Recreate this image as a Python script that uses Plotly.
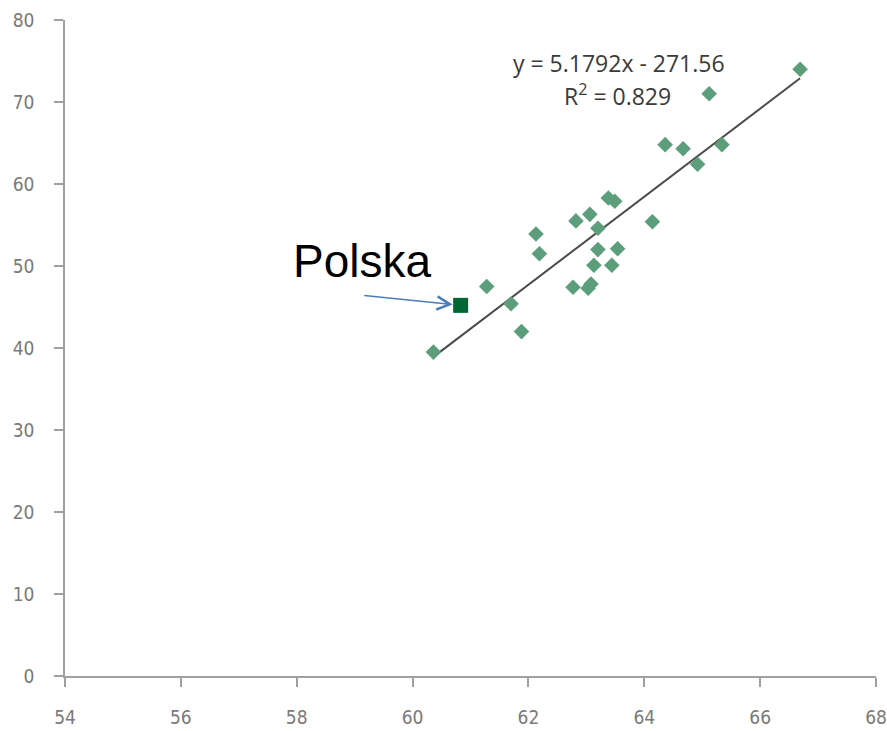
import numpy as np
import plotly.graph_objects as go

# Data
x_vals = [66.69, 65.12, 64.36, 64.67, 65.34, 64.92, 63.38, 63.49, 63.06, 62.82,
          64.14, 63.20, 62.13, 62.19, 63.20, 63.54, 63.13, 63.44, 61.28, 62.77,
          63.03, 63.08, 61.70, 61.88, 60.36]
y_vals = [74.0, 71.0, 64.8, 64.3, 64.8, 62.4, 58.3, 57.9, 56.3, 55.5,
          55.4, 54.6, 53.9, 51.5, 52.0, 52.1, 50.1, 50.1, 47.5, 47.4,
          47.3, 47.8, 45.4, 42.0, 39.5]
polska_x = [60.83]
polska_y = [45.2]
polska_label = "Polska"
eq_text = "y = 5.1792x - 271.56"
r2_text = "R<sup>2</sup> = 0.829"
x_ticks = [54, 56, 58, 60, 62, 64, 66, 68]
y_ticks = [0, 10, 20, 30, 40, 50, 60, 70, 80]

# Linear trend fitted to the points
all_x = np.array(x_vals + polska_x)
all_y = np.array(y_vals + polska_y)
slope, intercept = np.polyfit(all_x, all_y, 1)
line_x = np.array([min(x_vals), max(x_vals)])
line_y = slope * line_x + intercept

fig = go.Figure()
fig.add_trace(go.Scatter(x=line_x, y=line_y, mode="lines",
                         line=dict(color="#4a4a4a", width=2),
                         hoverinfo="skip", showlegend=False))
fig.add_trace(go.Scatter(x=x_vals, y=y_vals, mode="markers",
                         marker=dict(symbol="diamond", size=12, color="#5c9e7b"),
                         showlegend=False))
fig.add_trace(go.Scatter(x=polska_x, y=polska_y, mode="markers",
                         marker=dict(symbol="square", size=15, color="#006633"),
                         showlegend=False))

tick_font = dict(family="Liberation Sans Narrow, DejaVu Sans Condensed, Arial Narrow, sans-serif",
                 size=19, color="#7a7a7a")
axis_color = "#a0a0a0"

fig.update_layout(
    width=887, height=731,
    margin=dict(l=65, r=11, t=20, b=55, autoexpand=False),
    paper_bgcolor="white", plot_bgcolor="white",
    xaxis=dict(range=[54, 68], tickvals=x_ticks, showgrid=False, zeroline=False,
               showline=True, linecolor=axis_color, linewidth=1.5,
               ticks="outside", ticklen=9, tickcolor=axis_color, tickwidth=1.5,
               tickfont=tick_font, ticklabelstandoff=14, automargin=False,
               ticklabeloverflow="allow"),
    yaxis=dict(range=[0, 80], tickvals=y_ticks, showgrid=False, zeroline=False,
               showline=True, linecolor=axis_color, linewidth=1.5,
               ticks="outside", ticklen=9, tickcolor=axis_color, tickwidth=1.5,
               tickfont=tick_font, ticklabelstandoff=16, automargin=False,
               ticklabeloverflow="allow"),
    annotations=[
        dict(x=63.57, y=74.8, xref="x", yref="y", text=eq_text, showarrow=False,
             font=dict(family="Open Sans", size=23, color="#3a3a3a")),
        dict(x=63.54, y=70.9, xref="x", yref="y", text=r2_text, showarrow=False,
             font=dict(family="Open Sans", size=23, color="#3a3a3a")),
        dict(x=59.13, y=50.6, xref="x", yref="y", text=polska_label, showarrow=False,
             font=dict(family="Liberation Sans, Arial, sans-serif", size=46, color="black")),
        dict(x=polska_x[0], y=polska_y[0], xref="x", yref="y", text="",
             showarrow=True, ax=-98, ay=-10, axref="pixel", ayref="pixel",
             arrowhead=5, arrowsize=1.6, arrowwidth=1.6, arrowcolor="#4a7ebb",
             standoff=8),
    ],
)

fig.write_html("out.html", config={"displayModeBar": False},
               post_script="document.body.style.margin='0';document.body.style.overflow='hidden';")
